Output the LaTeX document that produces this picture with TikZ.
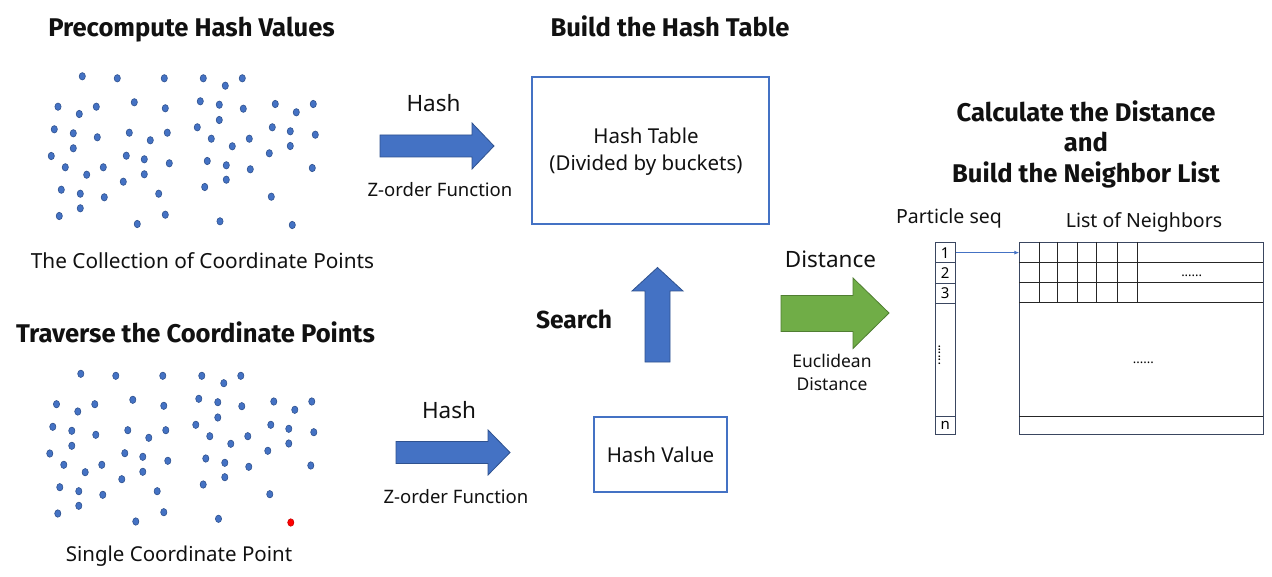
\documentclass[tikz,border=0pt]{standalone}
\usepackage{fontspec}
\setmainfont{Noto Sans}
\newfontfamily\ttlfam{Fira Sans}
\usetikzlibrary{arrows.meta}
\definecolor{dotblue}{HTML}{4472C4}
\definecolor{dotedge}{HTML}{2F528F}
\definecolor{boxblue}{HTML}{4472C4}
\definecolor{gfill}{HTML}{70AD47}
\definecolor{gedge}{HTML}{507E32}
\definecolor{tedge}{HTML}{3A4660}
\definecolor{txt}{HTML}{111111}
\tikzset{
  ttl/.style={text=txt, font=\ttlfam\bfseries\fontsize{25.6}{30.5}\selectfont, inner sep=0pt, align=center, anchor=base},
  lbl/.style={text=txt, font=\fontsize{20.5}{27}\selectfont, inner sep=0pt, align=center},
  small/.style={text=txt, font=\fontsize{18.5}{23}\selectfont, inner sep=0pt, align=center},
  pt/.style={fill=dotblue, draw=dotedge, line width=0.6pt},
  redpt/.style={fill=red, draw=red!80!black, line width=0.6pt},
  barrow/.style={fill=dotblue, draw=dotedge, line width=0.8pt, line join=miter},
  garrow/.style={fill=gfill, draw=gedge, line width=0.8pt, line join=miter},
  hbox/.style={draw=boxblue, line width=1.2pt, inner sep=0pt, text=txt},
  cell/.style={draw=tedge, line width=1pt, inner sep=0pt, anchor=north west, minimum width=20.5pt, font=\fontsize{15}{15}\selectfont},
  grid/.style={draw=black!85, line width=0.9pt},
}
\begin{document}
\begin{tikzpicture}[x=1pt,y=-1pt]
\useasboundingbox[fill=white] (0,0) rectangle (1272,577);
% titles
\node[ttl] (t1) at (191.5,37) {Precompute Hash Values};
\node[ttl] (t2) at (670,37) {Build the Hash Table};
\node[ttl] (t3a) at (1086,122) {Calculate the Distance};
\node[ttl] (t3b) at (1086,152) {and};
\node[ttl] (t3c) at (1086,183) {Build the Neighbor List};
\node[ttl] (t4) at (195.5,342.5) {Traverse the Coordinate Points};
% point clouds
\def\pts{82.3/76.3, 117.3/78.3, 164.3/78.3, 203.3/78.3, 225.3/85.7, 242.3/78.3,
58/106.7, 79.3/114, 96.3/106.7, 134.3/102.3, 165.3/108.3, 200.3/101.3, 219.3/104.7, 243.3/108.7, 275.3/104, 296.3/112.3, 313.3/104,
54.3/129.3, 73.3/133.3, 97.3/137.3, 129.3/132.7, 150.3/140.3, 167.3/132.7, 197.3/127.3, 219.3/120, 211.3/138.7, 249.3/138.7, 232.3/146.3, 272.3/127.3, 290.3/131.3, 315.3/134.7, 290.3/146,
51.3/156, 73.3/148.3, 65.3/167.3, 86.7/174.7, 103.3/167.3, 126.3/155.7, 144.3/159.3, 169.3/163.3, 144.3/174.3, 123.3/181.7, 207.3/161, 226.3/165.3, 250.3/169.3, 269.3/153.3, 312.3/168,
61.3/189.7, 80.3/193.7, 104.3/197.3, 158.7/193.7, 226.3/179.7, 204.7/187, 271.3/196.7,
59.3/216, 80.3/208.3, 165.3/214.7, 137.3/224, 220/221.3}
\foreach \x/\y in \pts {
  \path[pt] (\x,\y) ellipse [x radius=3.1, y radius=3.7];
  \path[pt] (\x-1.5,\y+297.5) ellipse [x radius=3.1, y radius=3.7];
}
\path[pt] (292.3,225) ellipse [x radius=3.1, y radius=3.7];
\path[redpt] (290.8,522.5) ellipse [x radius=3.1, y radius=3.7];
\node[lbl, font=\fontsize{20.8}{27}\selectfont] (l1) at (202.5,261) {The Collection of Coordinate Points};
\node[lbl] (l2) at (179,556) {Single Coordinate Point};
% top hash arrow
\path[barrow] (380,135) -- (472,135) -- (472,123) -- (494,146) -- (472,169) -- (472,157) -- (380,157) -- cycle;
\node[lbl, font=\fontsize{22.5}{27}\selectfont] (h1) at (433.5,103) {Hash};
\node[small] (z1) at (440,190) {Z-order Function};
% hash table
\node[hbox, minimum width=237pt, minimum height=147pt] (ht) at (650.5,150.5) {};
\node[lbl] (htt) at (646,151.5) {Hash Table\\(Divided by buckets)};
% bottom hash arrow
\path[barrow] (396,441.5) -- (488,441.5) -- (488,430) -- (510,452.5) -- (488,475) -- (488,463.5) -- (396,463.5) -- cycle;
\node[lbl, font=\fontsize{22.5}{27}\selectfont] (h2) at (449,410.5) {Hash};
\node[small] (z2) at (456,497) {Z-order Function};
% hash value
\node[hbox, minimum width=133pt, minimum height=75pt, font=\fontsize{20.5}{27}\selectfont] (hv) at (660.5,454.5) {Hash Value};
% search arrow
\path[barrow] (645,362) -- (645,291) -- (632,291) -- (657.5,267.5) -- (683,291) -- (670,291) -- (670,362) -- cycle;
\node[ttl, font=\ttlfam\bfseries\fontsize{24.6}{27}\selectfont] (s) at (574,329) {Search};
% distance arrow
\path[garrow] (781,295.5) -- (853,295.5) -- (853,278) -- (889,313) -- (853,348.5) -- (853,331.5) -- (781,331.5) -- cycle;
\node[lbl, font=\fontsize{22.5}{27}\selectfont] (d) at (830.5,259) {Distance};
\node[small, font=\fontsize{17.5}{23}\selectfont] (eu) at (832,372.5) {Euclidean\\ Distance};
% neighbor list
\node[lbl, font=\fontsize{19.5}{27}\selectfont] (ps) at (949,218) {Particle seq};
\node[lbl, font=\fontsize{19.5}{27}\selectfont] (ln) at (1144,222) {List of Neighbors};
\node[cell, minimum height=20.3pt] (c1) at (934.5,242) {1};
\node[cell, minimum height=20.4pt] (c2) at (934.5,262.3) {2};
\node[cell, minimum height=20pt] (c3) at (934.5,282.7) {3};
\node[cell, minimum height=113.3pt] (cd) at (934.5,302.7) {};
\node[cell, minimum height=18.3pt] (cn) at (934.5,416) {n};
\node[font=\fontsize{13}{13}\selectfont, rotate=90, inner sep=0pt] (vd) at (939.5,355) {......};
\node[draw=tedge, line width=1pt, anchor=north west, minimum width=244pt, minimum height=192.3pt, inner sep=0pt] (tbl) at (1019.3,242) {};
\draw[grid] (1019.3,262.3) -- (1263.3,262.3);
\draw[grid] (1019.3,282.7) -- (1263.3,282.7);
\draw[grid] (1019.3,302.7) -- (1263.3,302.7);
\draw[grid] (1019.3,416) -- (1263.3,416);
\foreach \vx in {1039,1057.3,1077.3,1096.7,1117.3,1137.3} {
  \draw[grid] (\vx,242) -- (\vx,302.7);
}
\node[font=\fontsize{13}{13}\selectfont, inner sep=0pt] (dots1) at (1191.7,275.5) {......};
\node[font=\fontsize{13}{13}\selectfont, inner sep=0pt] (dots2) at (1143.3,362.5) {......};
\draw[boxblue, line width=0.9pt, -{Latex[length=5pt,width=4pt]}] (c1.east) -- (c1.east -| tbl.west);
\end{tikzpicture}
\end{document}
